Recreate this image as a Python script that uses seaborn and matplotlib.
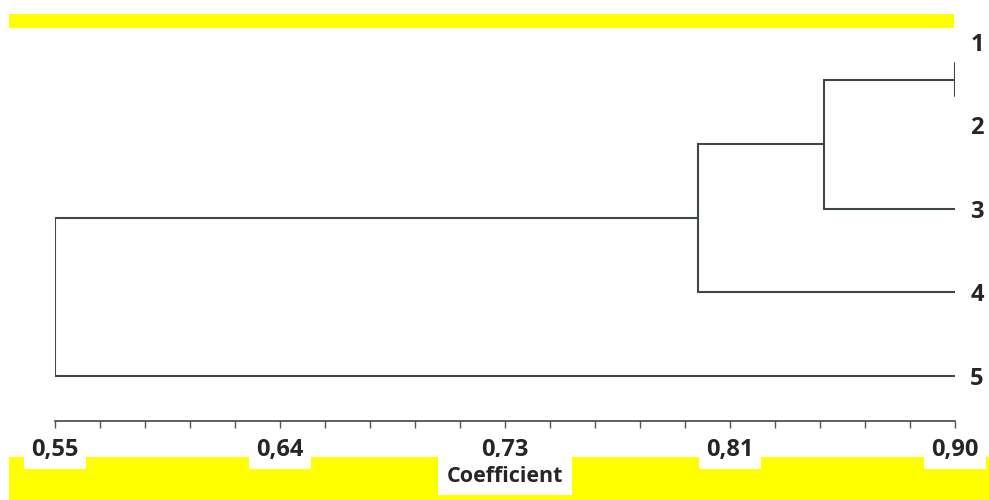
import numpy as np
import pandas as pd
import matplotlib
matplotlib.use("Agg")
import matplotlib.pyplot as plt
from matplotlib.patches import Rectangle
import seaborn as sns

# Data
leaf_labels = ["1", "2", "3", "4", "5"]
leaf_line_y = [0.25, 0.65, 2.0, 3.0, 4.0]   # where each leaf branch is drawn
leaf_coef = 0.90
merge_left = [0, 5, 6, 7]       # child ids (0-4 leaves, 5+ merged nodes)
merge_right = [1, 2, 3, 4]
merge_coef = [0.90, 0.849, 0.80, 0.55]

tick_values = [0.55, 0.6375, 0.725, 0.8125, 0.90]
tick_labels = ["0,55", "0,64", "0,73", "0,81", "0,90"]

LINE_COLOR = "#3d4a3d"
YELLOW = "#ffff00"

# Build segments of the dendrogram
node_x = [leaf_coef] * len(leaf_labels)
node_y = list(leaf_line_y)
rows = []
seg = 0
for left, right, coef in zip(merge_left, merge_right, merge_coef):
    for child in (left, right):
        rows.append((seg, node_x[child], node_y[child]))
        rows.append((seg, coef, node_y[child]))
        seg += 1
    rows.append((seg, coef, node_y[left]))
    rows.append((seg, coef, node_y[right]))
    seg += 1
    node_x.append(coef)
    node_y.append((node_y[left] + node_y[right]) / 2)
segments = pd.DataFrame(rows, columns=["seg", "x", "y"])

sns.set_theme(style="white")
plt.rcParams["font.family"] = ["Open Sans", "DejaVu Sans"]

W, H = 989, 500
fig = plt.figure(figsize=(W / 100, H / 100), dpi=100)
ax = fig.add_axes([55 / W, 1 - 421 / H, 900 / W, (421 - 30) / H])

# yellow bands of the original figure
fig.patches.append(Rectangle((9 / W, 1 - 28 / H), 945 / W, 14 / H,
                             transform=fig.transFigure, facecolor=YELLOW,
                             edgecolor="none", zorder=-1))
fig.patches.append(Rectangle((9 / W, 0), 980 / W, 43 / H,
                             transform=fig.transFigure, facecolor=YELLOW,
                             edgecolor="none", zorder=-1))

sns.lineplot(data=segments, x="x", y="y", units="seg", estimator=None,
             sort=False, color=LINE_COLOR, linewidth=1.5, ax=ax, legend=False)

ax.set_xlim(0.55, 0.90)
ax.set_ylim(4.54, -0.144)
ax.patch.set_alpha(0)

for side in ["top", "left", "right"]:
    ax.spines[side].set_visible(False)
ax.spines["bottom"].set_color(LINE_COLOR)
ax.spines["bottom"].set_linewidth(1.2)

ax.set_xticks(tick_values)
ax.set_xticklabels(tick_labels, fontsize=17, fontweight="bold")
ax.set_xticks(np.linspace(0.55, 0.90, 21), minor=True)
ax.tick_params(axis="x", which="both", direction="out", length=5, width=1,
               color="#555555", pad=7, bottom=True)
for lab in ax.get_xticklabels():
    lab.set_bbox(dict(facecolor="white", edgecolor="none", pad=5.5))

ax.yaxis.tick_right()
ax.set_yticks(range(len(leaf_labels)))
ax.set_yticklabels(leaf_labels, fontsize=17, fontweight="bold")
ax.tick_params(axis="y", length=0, pad=11)

ax.set_xlabel("Coefficient", fontsize=15.5, fontweight="bold", labelpad=3,
              bbox=dict(facecolor="white", edgecolor="none", pad=6))
ax.set_ylabel("")

fig.savefig("out.png", dpi=100)
